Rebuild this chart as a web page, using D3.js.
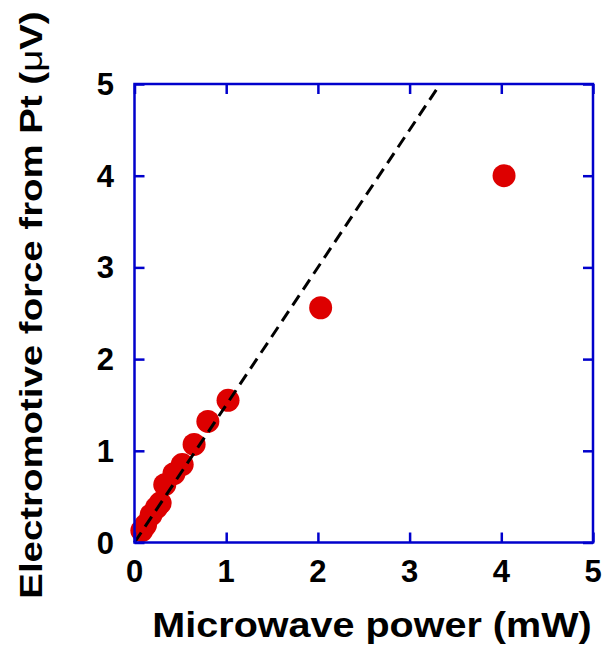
<!DOCTYPE html>
<html><head><meta charset="utf-8">
<script src="https://cdn.jsdelivr.net/npm/d3@7"></script>
<style>body{margin:0;background:#fff}svg{display:block}</style>
</head><body>
<script>
const powerMW = [0.08, 0.12, 0.18, 0.24, 0.28, 0.33, 0.43, 0.52, 0.65, 0.80, 1.02, 2.03, 4.03];
const emfUV   = [0.13, 0.19, 0.30, 0.38, 0.43, 0.63, 0.75, 0.85, 1.07, 1.32, 1.55, 2.56, 4.00];
const fitX = [0, 3.3];
const fitY = [0, 4.95];
const xTicks = [0, 1, 2, 3, 4, 5];
const yTicks = [0, 1, 2, 3, 4, 5];

const W = 608, H = 655;
const m = {left: 134.5, right: 593, top: 84, bottom: 542.5};
const svg = d3.select("body").append("svg").attr("width", W).attr("height", H);
const x = d3.scaleLinear().domain([0, 5]).range([m.left, m.right]);
const y = d3.scaleLinear().domain([0, 5]).range([m.bottom, m.top]);
const blue = "#0000cc";
const font = "'Liberation Sans', Arial, sans-serif";

// points
svg.append("g").selectAll("circle").data(powerMW.map((d, i) => [d, emfUV[i]]))
  .join("circle").attr("cx", d => x(d[0])).attr("cy", d => y(d[1])).attr("r", 11.5)
  .attr("fill", "#dd0000");

// fit line
svg.append("path").datum(fitX.map((d, i) => [d, fitY[i]]))
  .attr("d", d3.line().x(d => x(d[0])).y(d => y(d[1])))
  .attr("stroke", "#000").attr("stroke-width", 3).attr("stroke-dasharray", "12,7").attr("fill", "none");

// axes with inward ticks
function styleAxis(g) {
  g.select(".domain").remove();
  g.selectAll("line").attr("stroke", blue).attr("stroke-width", 2.5);
  g.selectAll("text").remove();
}
svg.append("g").attr("transform", `translate(0,${m.bottom})`).call(d3.axisTop(x).tickValues(xTicks).tickSize(10)).call(styleAxis);
svg.append("g").attr("transform", `translate(0,${m.top})`).call(d3.axisBottom(x).tickValues(xTicks).tickSize(10)).call(styleAxis);
svg.append("g").attr("transform", `translate(${m.left},0)`).call(d3.axisRight(y).tickValues(yTicks).tickSize(10)).call(styleAxis);
svg.append("g").attr("transform", `translate(${m.right},0)`).call(d3.axisLeft(y).tickValues(yTicks).tickSize(10)).call(styleAxis);

svg.append("rect").attr("x", m.left).attr("y", m.top).attr("width", m.right - m.left).attr("height", m.bottom - m.top)
  .attr("fill", "none").attr("stroke", blue).attr("stroke-width", 2.5);

// tick labels
svg.append("g").selectAll("text").data(xTicks).join("text")
  .attr("x", d => x(d)).attr("y", 582).attr("text-anchor", "middle")
  .attr("font-family", font).attr("font-weight", "bold").attr("font-size", 31).text(d => d);
svg.append("g").selectAll("text").data(yTicks).join("text")
  .attr("x", 114).attr("y", d => y(d) + 11).attr("text-anchor", "end")
  .attr("font-family", font).attr("font-weight", "bold").attr("font-size", 31).text(d => d);

// titles
svg.append("text").attr("transform", "translate(372,637) scale(1.13,1)").attr("text-anchor", "middle")
  .attr("font-family", font).attr("font-weight", "bold").attr("font-size", 35).text("Microwave power (mW)");
const yt = svg.append("text").attr("transform", "translate(42,305) rotate(-90) scale(1.2,1)").attr("text-anchor", "middle")
  .attr("font-family", font).attr("font-weight", "bold").attr("font-size", 32);
yt.append("tspan").text("Electromotive force from Pt (");
yt.append("tspan").attr("font-weight", "normal").text("μ");
yt.append("tspan").text("V)");
</script>
</body></html>
